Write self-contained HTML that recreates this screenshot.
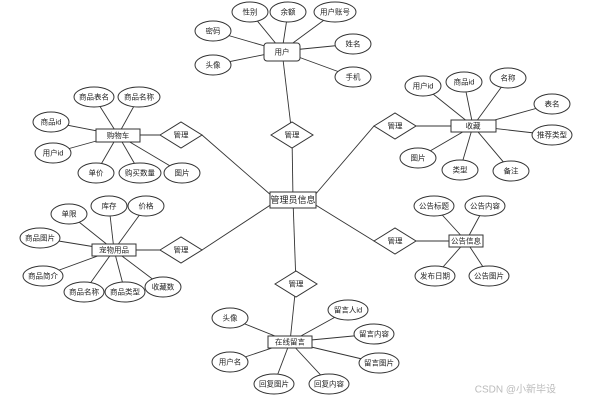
<!DOCTYPE html>
<html><head><meta charset="utf-8"><style>
html,body{margin:0;padding:0;background:#fff;}
svg{display:block;}
text{font-family:"Liberation Sans","Noto Sans CJK SC",sans-serif;font-size:7.5px;fill:#222;text-anchor:middle;dominant-baseline:central;}
.l{stroke:#333;stroke-width:0.9;fill:none;}
.s{stroke:#333;stroke-width:1;fill:#fff;}
</style></head><body>
<svg width="600" height="401" viewBox="0 0 600 401">
<g class="l">
<!-- 用户 -->
<line x1="282" y1="51" x2="250" y2="12"/><line x1="282" y1="51" x2="288" y2="12"/><line x1="282" y1="51" x2="335" y2="12"/>
<line x1="282" y1="51" x2="213" y2="31"/><line x1="282" y1="51" x2="213" y2="65"/><line x1="282" y1="51" x2="353" y2="44"/><line x1="282" y1="51" x2="353" y2="77"/>
<line x1="282" y1="51" x2="292" y2="135"/><line x1="292" y1="135" x2="293" y2="200"/>
<!-- 购物车 -->
<line x1="118" y1="135" x2="94" y2="97"/><line x1="118" y1="135" x2="139" y2="97"/><line x1="118" y1="135" x2="51" y2="122"/><line x1="118" y1="135" x2="53" y2="153"/>
<line x1="118" y1="135" x2="96" y2="173"/><line x1="118" y1="135" x2="140" y2="173"/><line x1="118" y1="135" x2="182" y2="173"/>
<line x1="118" y1="135" x2="181" y2="135"/><line x1="202" y1="135" x2="272" y2="196"/>
<!-- 收藏 -->
<line x1="473" y1="126" x2="423" y2="86"/><line x1="473" y1="126" x2="464" y2="82"/><line x1="473" y1="126" x2="508" y2="78"/><line x1="473" y1="126" x2="552" y2="104"/><line x1="473" y1="126" x2="552" y2="135"/>
<line x1="473" y1="126" x2="418" y2="158"/><line x1="473" y1="126" x2="460" y2="170"/><line x1="473" y1="126" x2="511" y2="171"/>
<line x1="473" y1="126" x2="395" y2="126"/><line x1="374" y1="126" x2="314" y2="196"/>
<!-- 宠物用品 -->
<line x1="114" y1="250" x2="69" y2="214"/><line x1="114" y1="250" x2="109" y2="206"/><line x1="114" y1="250" x2="146" y2="206"/><line x1="114" y1="250" x2="40" y2="238"/><line x1="114" y1="250" x2="43" y2="276"/>
<line x1="114" y1="250" x2="84" y2="292"/><line x1="114" y1="250" x2="125" y2="292"/><line x1="114" y1="250" x2="163" y2="287"/>
<line x1="114" y1="250" x2="181" y2="250"/><line x1="202" y1="250" x2="272" y2="204"/>
<!-- 公告 -->
<line x1="466" y1="241" x2="434" y2="206"/><line x1="466" y1="241" x2="485" y2="206"/><line x1="466" y1="241" x2="435" y2="276"/><line x1="466" y1="241" x2="489" y2="276"/>
<line x1="466" y1="241" x2="395" y2="241"/><line x1="374" y1="241" x2="314" y2="204"/>
<!-- 留言 -->
<line x1="293" y1="200" x2="296" y2="284"/><line x1="296" y1="284" x2="290" y2="342"/>
<line x1="290" y1="342" x2="230" y2="318"/><line x1="290" y1="342" x2="230" y2="362"/><line x1="290" y1="342" x2="274" y2="384"/><line x1="290" y1="342" x2="329" y2="384"/>
<line x1="290" y1="342" x2="348" y2="310"/><line x1="290" y1="342" x2="374" y2="334"/><line x1="290" y1="342" x2="379" y2="363"/>
</g>
<g class="s">
<!-- ellipses -->
<ellipse cx="250" cy="12" rx="18" ry="10"/><ellipse cx="288" cy="12" rx="18" ry="10"/><ellipse cx="335" cy="12" rx="21" ry="10"/>
<ellipse cx="213" cy="31" rx="18" ry="10"/><ellipse cx="213" cy="65" rx="18" ry="10"/><ellipse cx="353" cy="44" rx="18" ry="10"/><ellipse cx="353" cy="77" rx="18" ry="10"/>
<ellipse cx="94" cy="97" rx="20" ry="10"/><ellipse cx="139" cy="97" rx="21" ry="10"/><ellipse cx="51" cy="122" rx="18" ry="10"/><ellipse cx="53" cy="153" rx="18" ry="10"/>
<ellipse cx="96" cy="173" rx="18" ry="10"/><ellipse cx="140" cy="173" rx="21" ry="10"/><ellipse cx="182" cy="173" rx="18" ry="10"/>
<ellipse cx="423" cy="86" rx="18" ry="10"/><ellipse cx="464" cy="82" rx="18" ry="10"/><ellipse cx="508" cy="78" rx="18" ry="10"/><ellipse cx="552" cy="104" rx="18" ry="10"/><ellipse cx="552" cy="135" rx="20" ry="10"/>
<ellipse cx="418" cy="158" rx="18" ry="10"/><ellipse cx="460" cy="170" rx="18" ry="10"/><ellipse cx="511" cy="171" rx="18" ry="10"/>
<ellipse cx="69" cy="214" rx="18" ry="10"/><ellipse cx="109" cy="206" rx="18" ry="10"/><ellipse cx="146" cy="206" rx="18" ry="10"/><ellipse cx="40" cy="238" rx="20" ry="10"/><ellipse cx="43" cy="276" rx="20" ry="10"/>
<ellipse cx="84" cy="292" rx="20" ry="10"/><ellipse cx="125" cy="292" rx="20" ry="10"/><ellipse cx="163" cy="287" rx="18" ry="10"/>
<ellipse cx="434" cy="206" rx="20" ry="10"/><ellipse cx="485" cy="206" rx="20" ry="10"/><ellipse cx="435" cy="276" rx="20" ry="10"/><ellipse cx="489" cy="276" rx="20" ry="10"/>
<ellipse cx="230" cy="318" rx="18" ry="10"/><ellipse cx="230" cy="362" rx="18" ry="10"/><ellipse cx="274" cy="384" rx="20" ry="10"/><ellipse cx="329" cy="384" rx="20" ry="10"/>
<ellipse cx="348" cy="310" rx="20" ry="10"/><ellipse cx="374" cy="334" rx="20" ry="10"/><ellipse cx="379" cy="363" rx="20" ry="10"/>
<!-- diamonds -->
<polygon points="160,135 181,122 202,135 181,148"/><polygon points="271,135 292,122 313,135 292,148"/><polygon points="374,126 395,113 416,126 395,139"/>
<polygon points="160,250 181,237 202,250 181,263"/><polygon points="374,241 395,228 416,241 395,254"/><polygon points="275,284 296,271 317,284 296,297"/>
<!-- entities -->
<rect x="264" y="43" width="36" height="18" rx="3"/>
<rect x="96" y="129" width="44" height="13"/><rect x="451" y="120" width="45" height="12"/>
<rect x="270" y="192" width="46" height="16"/><rect x="92" y="244" width="44" height="12"/>
<rect x="449" y="235" width="34" height="12"/><rect x="268" y="336" width="44" height="12"/>
</g>
<g>
<text x="250" y="12">性别</text><text x="288" y="12">余额</text><text x="335" y="12">用户账号</text><text x="213" y="31">密码</text><text x="213" y="65">头像</text><text x="353" y="44">姓名</text><text x="353" y="77">手机</text>
<text x="94" y="97">商品表名</text><text x="139" y="97">商品名称</text><text x="51" y="122">商品id</text><text x="53" y="153">用户id</text><text x="96" y="173">单价</text><text x="140" y="173">购买数量</text><text x="182" y="173">图片</text>
<text x="423" y="86">用户id</text><text x="464" y="82">商品id</text><text x="508" y="78">名称</text><text x="552" y="104">表名</text><text x="552" y="135">推荐类型</text><text x="418" y="158">图片</text><text x="460" y="170">类型</text><text x="511" y="171">备注</text>
<text x="69" y="214">单限</text><text x="109" y="206">库存</text><text x="146" y="206">价格</text><text x="40" y="238">商品图片</text><text x="43" y="276">商品简介</text><text x="84" y="292">商品名称</text><text x="125" y="292">商品类型</text><text x="163" y="287">收藏数</text>
<text x="434" y="206">公告标题</text><text x="485" y="206">公告内容</text><text x="435" y="276">发布日期</text><text x="489" y="276">公告图片</text>
<text x="230" y="318">头像</text><text x="230" y="362">用户名</text><text x="274" y="384">回复图片</text><text x="329" y="384">回复内容</text><text x="348" y="310">留言人id</text><text x="374" y="334">留言内容</text><text x="379" y="363">留言图片</text>
<text x="181" y="135">管理</text><text x="292" y="135">管理</text><text x="395" y="126">管理</text><text x="181" y="250">管理</text><text x="395" y="241">管理</text><text x="296" y="284">管理</text>
<text x="282" y="52">用户</text><text x="118" y="135.5">购物车</text><text x="473" y="126">收藏</text><text x="293" y="200" style="font-size:9px">管理员信息</text><text x="114" y="250">宠物用品</text><text x="466" y="241">公告信息</text><text x="290" y="342">在线留言</text>
<text x="556" y="390" style="font-size:10px;fill:#bbb;text-anchor:end">CSDN @小新毕设</text>
</g>
</svg>
</body></html>
